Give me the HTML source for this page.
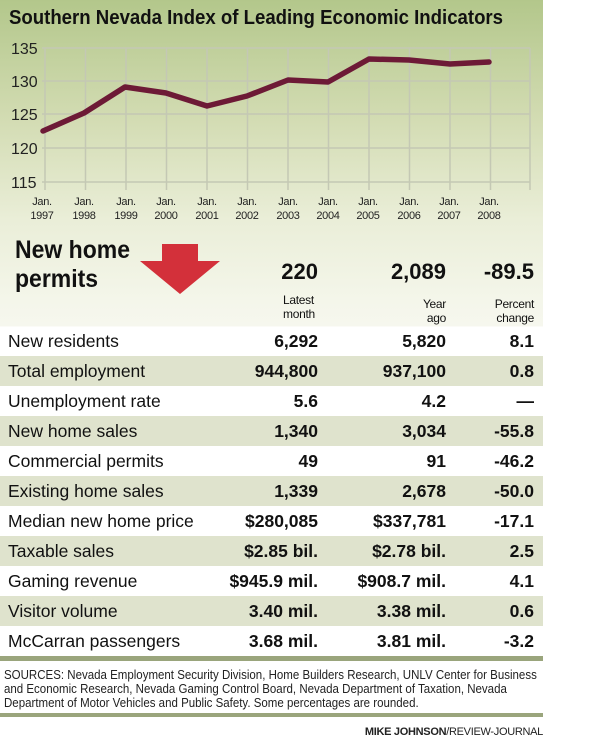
<!DOCTYPE html>
<html><head><meta charset="utf-8"><style>
*{margin:0;padding:0;box-sizing:border-box}
body{width:600px;height:742px;background:#fff;position:relative;overflow:hidden;font-family:"Liberation Sans",sans-serif;color:#111}
#panel{position:absolute;left:0;top:0;width:543px;height:661px;background:linear-gradient(#b3c78b 0px,#d3dcb3 120px,#eaeed8 220px,#f4f6ea 300px,#f6f7ee 326px,#fff 327px)}
.title{position:absolute;left:9px;top:7px;font-weight:bold;font-size:20px;white-space:nowrap;transform:scaleX(0.93);transform-origin:left top}
.row{position:absolute;left:0;width:543px;height:30px;font-size:17.5px;line-height:30px}
.row.s{background:#dfe3cd}
.row span{position:absolute}
.l{left:8px}
.a{right:225px;font-weight:bold;text-align:right}
.b{right:97px;font-weight:bold;text-align:right}
.c{right:9px;font-weight:bold;text-align:right}
.big{position:absolute;font-weight:bold;font-size:22px;top:259px}
.sub{position:absolute;font-size:12px;line-height:14px;top:294px;letter-spacing:-0.3px}
</style></head><body>
<div id="panel"></div>
<div class="title">Southern Nevada Index of Leading Economic Indicators</div>
<svg style="position:absolute;left:0;top:0" width="543" height="230">
<g stroke="#c4c8b4" stroke-width="1.5" fill="none">
<line x1="42" y1="48" x2="530" y2="48"/><line x1="42" y1="81" x2="530" y2="81"/><line x1="42" y1="114" x2="530" y2="114"/><line x1="42" y1="148" x2="530" y2="148"/><line x1="42" y1="182" x2="530" y2="182"/>
<line x1="45" y1="48" x2="45" y2="190"/><line x1="85.5" y1="48" x2="85.5" y2="190"/><line x1="126" y1="48" x2="126" y2="190"/><line x1="166.5" y1="48" x2="166.5" y2="190"/><line x1="207" y1="48" x2="207" y2="190"/><line x1="247.5" y1="48" x2="247.5" y2="190"/><line x1="288" y1="48" x2="288" y2="190"/><line x1="328.5" y1="48" x2="328.5" y2="190"/><line x1="369" y1="48" x2="369" y2="190"/><line x1="409.5" y1="48" x2="409.5" y2="190"/><line x1="450" y1="48" x2="450" y2="190"/><line x1="490.5" y1="48" x2="490.5" y2="190"/><line x1="530" y1="48" x2="530" y2="190"/>
</g>
<g font-family="Liberation Sans, sans-serif" font-size="16" fill="#222">
<text x="11" y="54">135</text><text x="11" y="87">130</text><text x="11" y="120">125</text><text x="11" y="154">120</text><text x="11" y="188">115</text>
</g>
<g font-family="Liberation Sans, sans-serif" font-size="11" fill="#222" text-anchor="middle" letter-spacing="-0.3">
<text x="42" y="205">Jan.</text><text x="42" y="219">1997</text>
<text x="84" y="205">Jan.</text><text x="84" y="219">1998</text>
<text x="126" y="205">Jan.</text><text x="126" y="219">1999</text>
<text x="166" y="205">Jan.</text><text x="166" y="219">2000</text>
<text x="207" y="205">Jan.</text><text x="207" y="219">2001</text>
<text x="247" y="205">Jan.</text><text x="247" y="219">2002</text>
<text x="288" y="205">Jan.</text><text x="288" y="219">2003</text>
<text x="328" y="205">Jan.</text><text x="328" y="219">2004</text>
<text x="368" y="205">Jan.</text><text x="368" y="219">2005</text>
<text x="409" y="205">Jan.</text><text x="409" y="219">2006</text>
<text x="449" y="205">Jan.</text><text x="449" y="219">2007</text>
<text x="489" y="205">Jan.</text><text x="489" y="219">2008</text>
</g>
<polyline fill="none" stroke="#6d1a36" stroke-width="5.5" stroke-linejoin="round" stroke-linecap="round" points="43,131 84,113 125,87 166,93 207,106 247,96 288,80 328,82 369,59 409,60 450,64 489,62"/>
</svg>
<div style="position:absolute;left:15px;top:236px;font-weight:bold;font-size:25px;line-height:29px;transform:scaleX(0.92);transform-origin:left top">New home<br>permits</div>
<svg style="position:absolute;left:140px;top:244px" width="90" height="52"><polygon points="22,0 58,0 58,17 80,17 40,50 0,17 22,17" fill="#d3303a"/></svg>
<div class="big" style="right:282px">220</div>
<div class="big" style="right:154px">2,089</div>
<div class="big" style="right:66px">-89.5</div>
<div class="sub" style="left:283px;top:293px">Latest<br>month</div>
<div class="sub" style="right:154px;text-align:right;top:297px">Year<br>ago</div>
<div class="sub" style="right:66px;text-align:right;top:297px">Percent<br>change</div>

<div class="row" style="top:326px"><span class="l">New residents</span><span class="a">6,292</span><span class="b">5,820</span><span class="c">8.1</span></div>
<div class="row s" style="top:356px"><span class="l">Total employment</span><span class="a">944,800</span><span class="b">937,100</span><span class="c">0.8</span></div>
<div class="row" style="top:386px"><span class="l">Unemployment rate</span><span class="a">5.6</span><span class="b">4.2</span><span class="c">—</span></div>
<div class="row s" style="top:416px"><span class="l">New home sales</span><span class="a">1,340</span><span class="b">3,034</span><span class="c">-55.8</span></div>
<div class="row" style="top:446px"><span class="l">Commercial permits</span><span class="a">49</span><span class="b">91</span><span class="c">-46.2</span></div>
<div class="row s" style="top:476px"><span class="l">Existing home sales</span><span class="a">1,339</span><span class="b">2,678</span><span class="c">-50.0</span></div>
<div class="row" style="top:506px"><span class="l">Median new home price</span><span class="a">$280,085</span><span class="b">$337,781</span><span class="c">-17.1</span></div>
<div class="row s" style="top:536px"><span class="l">Taxable sales</span><span class="a">$2.85 bil.</span><span class="b">$2.78 bil.</span><span class="c">2.5</span></div>
<div class="row" style="top:566px"><span class="l">Gaming revenue</span><span class="a">$945.9 mil.</span><span class="b">$908.7 mil.</span><span class="c">4.1</span></div>
<div class="row s" style="top:596px"><span class="l">Visitor volume</span><span class="a">3.40 mil.</span><span class="b">3.38 mil.</span><span class="c">0.6</span></div>
<div class="row" style="top:626px"><span class="l">McCarran passengers</span><span class="a">3.68 mil.</span><span class="b">3.81 mil.</span><span class="c">-3.2</span></div>
<div style="position:absolute;left:0;top:656px;width:543px;height:5px;background:#9aa57c"></div>
<div style="position:absolute;left:4px;top:668px;width:640px;font-size:12.5px;line-height:14px;color:#222;transform:scaleX(0.92);transform-origin:left top;white-space:nowrap">SOURCES: Nevada Employment Security Division, Home Builders Research, UNLV Center for Business<br>and Economic Research, Nevada Gaming Control Board, Nevada Department of Taxation, Nevada<br>Department of Motor Vehicles and Public Safety. Some percentages are rounded.</div>
<div style="position:absolute;left:0;top:713px;width:543px;height:4px;background:#9aa57c"></div>
<div style="position:absolute;right:57px;top:726px;font-size:11px;color:#222;letter-spacing:-0.3px"><b>MIKE JOHNSON</b>/REVIEW-JOURNAL</div>
</body></html>
